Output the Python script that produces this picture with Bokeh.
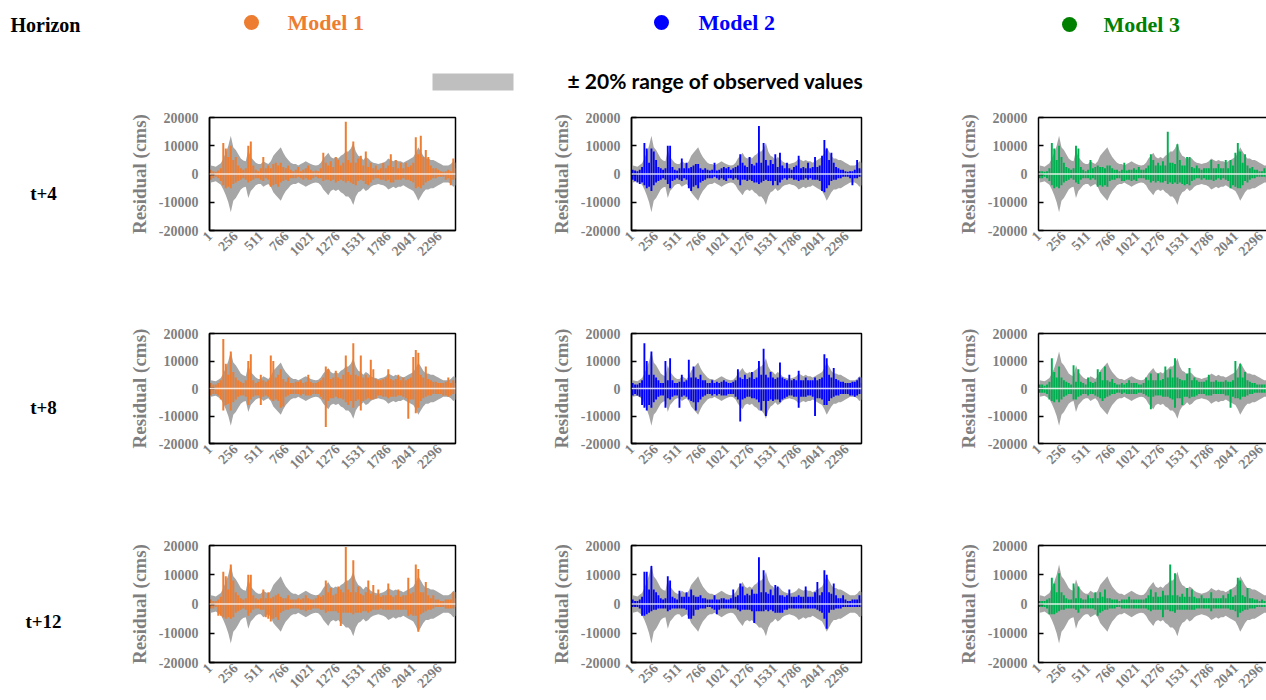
import math
import numpy as np
from bokeh.plotting import figure
from bokeh.layouts import column, row
from bokeh.models import Range1d, FixedTicker, Span, LinearAxis
from bokeh.core.properties import value
from bokeh.embed import file_html
from bokeh.resources import INLINE

# ---------------- data (values in thousands of cms) ----------------
HORIZONS = ["t+4", "t+8", "t+12"]
MODELS = ["Model 1", "Model 2", "Model 3"]
MODEL_COLORS = ["#ed7d31", "#0000ff", "#00b050"]
LEGEND_COLORS = ["#ed7d31", "#0000ff", "#008000"]
ZERO_COLORS = ["#fbe5d6", "#d6d6ff", "#dff0e4"]
BAND_LABEL = "\u00b1 20% range of observed values"
Y_LABEL = "Residual (cms)"
HEADER_LABEL = "Horizon"
X_TICKS = [1, 256, 511, 766, 1021, 1276, 1531, 1786, 2041, 2296]
Y_TICKS = [-20000, -10000, 0, 10000, 20000]
Y_TICK_LABELS = ["-20000", "-10000", "0", "10000", "20000"]

# sample index (centre of each 25-step bin)
SAMPLE_INDEX = list(range(13, 2476, 25))

# +/-20% of observed values (upper envelope, the lower one is its mirror)
BAND = [3.0, 2.8, 2.6, 3.2, 3.8, 5.5, 7.5, 10.0, 13.5, 9.5,
        8.5, 7.0, 5.5, 4.8, 4.5, 8.5, 6.0, 5.0, 4.0, 3.5,
        3.5, 4.5, 4.0, 3.5, 4.5, 6.5, 7.5, 8.5, 9.5, 7.5,
        6.0, 5.0, 4.0, 3.5, 3.5, 3.0, 3.5, 4.0, 4.5, 4.0,
        3.5, 3.2, 3.0, 3.2, 4.0, 5.5, 6.5, 7.5, 6.0, 5.5,
        6.0, 5.5, 6.5, 7.0, 8.0, 8.0, 9.0, 11.0, 8.0, 6.5,
        6.0, 5.0, 6.0, 5.5, 4.5, 4.0, 3.8, 3.5, 3.8, 4.0,
        4.5, 5.5, 5.0, 4.5, 5.0, 4.5, 4.5, 4.0, 4.5, 5.0,
        5.5, 6.0, 7.5, 9.5, 8.0, 6.5, 5.5, 5.5, 5.0, 5.0,
        4.5, 4.0, 3.5, 3.0, 3.0, 3.0, 3.5, 4.5, 4.0]

# residuals: largest positive and largest negative value in each bin
M1_T4_POS = [1.5, 1.0, 0.8, 1.2, 2.0, 11.0, 9.0, 6.0, 10.0, 5.0,
             6.0, 3.0, 2.0, 1.5, 2.0, 10.0, 11.5, 3.0, 1.5, 1.0,
             2.0, 6.0, 2.0, 3.0, 2.0, 3.5, 4.0, 3.0, 4.0, 2.5,
             2.0, 3.0, 1.5, 1.0, 1.5, 2.5, 1.0, 1.5, 2.0, 3.0,
             1.5, 1.0, 1.2, 1.0, 2.0, 7.5, 4.0, 3.0, 4.5, 2.5,
             6.0, 5.0, 3.0, 4.0, 18.5, 5.0, 4.0, 11.5, 4.0, 5.5,
             6.5, 3.0, 8.0, 2.5, 4.0, 2.0, 3.0, 1.5, 2.0, 4.0,
             2.0, 3.0, 7.0, 2.5, 5.0, 2.0, 4.0, 2.0, 4.0, 2.5,
             3.0, 4.0, 13.0, 7.0, 13.5, 6.0, 8.5, 6.0, 3.0, 2.0,
             2.0, 1.5, 1.0, 0.8, 1.0, 1.5, 1.0, 5.5, 2.0]
M1_T4_NEG = [-2.0, -1.5, -1.0, -1.5, -2.5, -4.0, -5.0, -4.5, -5.0, -3.5,
             -3.0, -2.5, -2.0, -1.5, -2.0, -3.0, -2.5, -2.0, -1.5, -1.5,
             -2.0, -2.5, -1.5, -2.0, -4.5, -4.0, -3.5, -4.5, -3.0, -2.5,
             -2.0, -2.5, -1.5, -1.5, -1.5, -1.0, -1.5, -2.0, -1.5, -2.0,
             -2.0, -1.5, -1.0, -1.5, -1.5, -2.5, -2.0, -2.0, -2.5, -2.0,
             -3.0, -2.5, -2.0, -2.5, -3.0, -2.5, -3.0, -3.5, -4.0, -2.5,
             -2.0, -2.5, -3.5, -4.0, -3.0, -2.0, -1.5, -1.5, -2.0, -2.0,
             -2.5, -2.0, -3.0, -3.0, -2.0, -2.0, -2.0, -1.5, -2.0, -2.0,
             -2.5, -3.0, -5.0, -4.5, -5.0, -4.0, -3.0, -2.5, -2.0, -1.5,
             -1.5, -1.0, -1.0, -1.0, -2.0, -1.5, -4.0, -2.0, -1.5]
M2_T4_POS = [1.5, 1.2, 1.0, 1.5, 2.5, 11.0, 9.0, 4.0, 9.0, 8.0,
             5.0, 2.5, 2.0, 1.5, 2.0, 10.0, 10.0, 2.5, 1.5, 1.2,
             2.0, 5.5, 2.0, 4.0, 2.0, 2.5, 3.0, 3.5, 3.5, 2.0,
             1.5, 2.0, 1.5, 1.2, 1.5, 4.0, 1.2, 1.5, 2.0, 2.5,
             2.0, 2.5, 1.5, 2.0, 2.5, 3.0, 7.0, 4.0, 3.0, 2.5,
             6.0, 3.5, 3.0, 4.0, 17.0, 4.0, 11.0, 5.0, 3.0, 5.0,
             3.5, 7.0, 2.5, 7.5, 3.0, 2.0, 4.0, 2.0, 1.5, 2.5,
             3.0, 6.5, 2.0, 2.5, 2.0, 4.0, 2.0, 2.5, 6.0, 2.5,
             3.0, 6.5, 12.0, 9.0, 5.0, 7.5, 4.0, 2.5, 2.0, 1.5,
             1.5, 1.0, 0.8, 1.0, 1.0, 1.5, 5.0, 2.0, 1.5]
M2_T4_NEG = [-2.0, -2.5, -3.0, -3.5, -3.0, -4.0, -5.0, -4.5, -6.0, -4.0,
             -3.0, -2.5, -2.0, -1.5, -2.0, -3.5, -5.0, -2.5, -2.0, -1.5,
             -2.0, -2.5, -1.5, -2.0, -5.0, -6.0, -4.5, -4.0, -5.0, -3.0,
             -2.5, -2.0, -1.5, -1.5, -1.5, -1.0, -1.5, -2.0, -1.5, -2.0,
             -2.5, -1.5, -1.5, -2.0, -1.5, -2.0, -4.0, -2.0, -2.0, -2.5,
             -2.0, -2.5, -3.0, -3.0, -3.5, -3.0, -2.5, -2.0, -2.5, -2.5,
             -4.0, -2.5, -4.0, -3.0, -2.0, -1.5, -2.0, -1.5, -1.5, -2.0,
             -2.0, -2.5, -2.0, -2.0, -1.5, -2.0, -1.5, -2.0, -2.0, -2.0,
             -2.5, -6.0, -6.5, -5.0, -4.0, -2.5, -2.0, -2.0, -1.5, -1.5,
             -1.0, -1.0, -1.0, -1.5, -4.0, -1.5, -1.5, -1.0, -1.0]
M3_T4_POS = [1.0, 1.0, 0.8, 1.0, 2.0, 11.0, 9.0, 5.0, 10.0, 6.0,
             4.0, 2.5, 2.0, 1.5, 2.0, 10.0, 9.0, 2.5, 1.5, 1.0,
             1.5, 5.0, 2.0, 2.5, 3.0, 2.5, 2.5, 2.0, 3.0, 3.0,
             2.0, 1.5, 1.5, 1.0, 1.5, 4.0, 1.2, 1.5, 1.5, 2.0,
             1.5, 2.5, 1.5, 1.5, 2.0, 3.0, 7.0, 5.0, 3.0, 4.0,
             3.0, 4.5, 3.0, 15.0, 4.0, 4.0, 3.5, 10.5, 5.0, 3.0,
             3.0, 6.0, 6.0, 2.5, 2.0, 3.0, 2.0, 1.5, 2.0, 2.0,
             2.0, 5.0, 2.0, 2.0, 3.5, 2.0, 2.0, 5.0, 2.0, 5.0,
             3.0, 7.5, 11.0, 8.0, 4.0, 7.0, 3.0, 2.0, 2.5, 1.5,
             1.5, 1.0, 1.0, 2.0, 1.0, 1.0, 1.5, 1.0, 1.0]
M3_T4_NEG = [-1.5, -1.5, -1.0, -1.5, -2.5, -4.0, -5.0, -4.5, -5.0, -4.0,
             -3.0, -2.5, -2.0, -1.5, -2.0, -3.0, -3.5, -2.0, -1.5, -1.5,
             -1.5, -2.0, -1.5, -2.0, -4.5, -4.0, -4.5, -4.0, -4.5, -2.5,
             -2.0, -2.0, -1.5, -1.5, -2.5, -2.5, -2.0, -2.0, -2.5, -2.0,
             -2.5, -1.5, -1.5, -1.5, -2.0, -2.0, -3.0, -2.5, -3.0, -2.5,
             -3.0, -3.0, -2.5, -3.5, -3.0, -3.5, -3.0, -3.5, -3.0, -3.5,
             -4.0, -3.5, -4.0, -2.5, -2.0, -1.5, -1.5, -2.0, -1.5, -2.0,
             -2.0, -2.0, -2.5, -2.0, -1.5, -2.0, -1.5, -2.0, -2.5, -5.0,
             -4.0, -4.5, -5.0, -5.0, -4.0, -2.5, -3.0, -2.0, -1.5, -1.5,
             -1.0, -1.0, -1.0, -1.0, -1.5, -1.5, -1.5, -1.0, -1.0]
M1_T8_POS = [2.0, 1.5, 1.5, 2.0, 3.0, 18.0, 9.0, 5.0, 13.5, 6.0,
             4.0, 3.0, 2.5, 2.0, 3.0, 10.0, 12.5, 3.0, 2.0, 2.5,
             5.0, 3.0, 2.5, 3.0, 12.0, 10.0, 4.0, 5.0, 7.0, 3.5,
             2.5, 4.0, 2.0, 2.0, 2.5, 2.5, 3.0, 2.0, 2.5, 5.0,
             2.5, 2.0, 2.0, 2.5, 3.0, 4.0, 8.0, 7.0, 3.5, 4.0,
             6.5, 4.0, 3.5, 5.0, 12.0, 6.0, 5.0, 16.5, 5.0, 4.5,
             12.0, 4.0, 5.0, 4.0, 10.5, 7.0, 3.5, 3.0, 3.0, 3.5,
             4.0, 7.0, 3.5, 3.0, 3.5, 5.0, 3.0, 4.0, 3.0, 3.5,
             4.0, 11.5, 14.0, 13.0, 5.0, 4.0, 8.0, 3.5, 3.0, 2.5,
             2.5, 2.0, 2.0, 2.0, 2.5, 4.0, 2.0, 3.0, 2.0]
M1_T8_NEG = [-2.5, -2.0, -2.0, -2.5, -4.0, -8.0, -6.0, -5.5, -8.0, -5.0,
             -4.0, -3.0, -2.5, -2.5, -3.0, -6.0, -4.0, -3.0, -2.5, -2.5,
             -6.0, -3.0, -2.5, -3.0, -4.0, -4.5, -4.0, -4.5, -7.0, -6.5,
             -3.0, -2.5, -2.0, -2.0, -2.0, -2.0, -2.5, -2.0, -2.5, -2.5,
             -2.5, -2.0, -2.0, -2.0, -3.0, -4.0, -14.0, -4.5, -3.5, -3.5,
             -3.0, -3.5, -3.5, -4.0, -5.0, -6.0, -4.5, -7.0, -4.5, -4.0,
             -8.0, -4.5, -4.0, -3.5, -4.0, -4.0, -3.5, -2.5, -2.5, -3.0,
             -3.0, -3.5, -3.0, -3.0, -3.0, -2.5, -2.5, -3.0, -3.5, -11.0,
             -4.0, -4.0, -9.0, -7.0, -4.5, -3.5, -3.0, -2.5, -2.5, -2.0,
             -2.0, -2.0, -2.0, -2.5, -2.5, -3.0, -2.5, -2.0, -2.0]
M2_T8_POS = [2.0, 1.5, 1.5, 2.0, 3.0, 16.5, 10.0, 5.0, 13.5, 5.0,
             4.0, 3.0, 2.0, 2.0, 10.0, 3.0, 11.0, 3.0, 2.0, 2.0,
             2.5, 5.0, 2.5, 3.0, 10.5, 4.0, 8.0, 4.0, 3.5, 5.0,
             3.0, 3.0, 2.0, 2.0, 3.0, 2.0, 2.5, 2.0, 2.5, 3.0,
             2.5, 2.0, 2.0, 2.5, 3.0, 7.0, 4.0, 3.5, 5.0, 3.5,
             4.0, 6.0, 3.5, 4.0, 10.0, 5.0, 14.5, 5.0, 4.0, 6.0,
             4.0, 3.5, 4.0, 9.5, 4.0, 3.5, 3.0, 5.0, 3.0, 3.5,
             3.0, 6.5, 3.0, 3.0, 4.0, 3.0, 3.0, 3.0, 4.0, 3.0,
             3.5, 4.0, 12.5, 11.0, 5.0, 4.0, 7.5, 3.5, 3.0, 2.5,
             2.5, 2.0, 2.0, 2.0, 2.5, 2.5, 3.0, 4.0, 2.0]
M2_T8_NEG = [-2.5, -2.0, -2.5, -3.0, -6.0, -7.0, -8.0, -6.0, -7.0, -5.0,
             -4.0, -3.0, -2.5, -2.5, -7.0, -3.5, -4.0, -3.0, -2.5, -2.5,
             -7.0, -3.0, -2.5, -3.0, -4.0, -4.5, -5.0, -8.0, -5.0, -4.0,
             -3.0, -2.5, -2.0, -2.0, -2.5, -2.0, -2.5, -2.0, -2.5, -2.5,
             -2.5, -2.0, -2.0, -2.0, -3.0, -4.0, -12.0, -4.0, -3.5, -3.0,
             -3.0, -3.5, -3.5, -4.0, -5.0, -8.0, -4.5, -10.0, -4.5, -4.0,
             -4.5, -4.0, -4.0, -5.0, -4.0, -3.5, -3.0, -2.5, -2.5, -3.0,
             -3.0, -7.0, -3.0, -3.0, -3.0, -2.5, -2.5, -3.0, -10.0, -3.5,
             -3.5, -4.0, -6.0, -6.0, -4.5, -3.5, -3.0, -2.5, -2.5, -2.0,
             -2.0, -2.0, -2.0, -2.5, -2.5, -3.0, -2.5, -2.0, -2.0]
M3_T8_POS = [1.5, 1.5, 1.0, 1.5, 2.5, 11.0, 6.0, 4.0, 8.0, 4.0,
             3.0, 2.5, 2.0, 1.5, 8.5, 2.5, 7.0, 2.5, 2.0, 1.5,
             4.0, 2.5, 2.0, 2.5, 7.0, 6.0, 3.0, 8.0, 3.0, 2.5,
             3.5, 2.0, 1.5, 1.5, 2.0, 1.5, 2.0, 3.0, 2.0, 2.0,
             2.0, 1.5, 1.5, 2.0, 4.0, 3.0, 5.5, 3.0, 3.0, 5.5,
             3.0, 3.5, 8.0, 4.0, 7.0, 4.0, 11.0, 4.0, 3.5, 3.0,
             3.0, 5.5, 7.5, 3.0, 4.0, 3.0, 2.5, 2.5, 2.5, 3.0,
             5.0, 2.5, 2.5, 3.0, 2.5, 2.5, 2.5, 3.0, 2.5, 2.5,
             3.0, 10.0, 4.0, 9.0, 4.0, 6.0, 3.0, 2.5, 2.0, 2.0,
             1.5, 1.5, 1.5, 1.5, 1.5, 1.5, 1.5, 1.5, 1.5]
M3_T8_NEG = [-1.5, -1.5, -1.5, -2.0, -4.0, -4.5, -5.0, -4.0, -5.0, -4.0,
             -3.0, -2.5, -2.0, -2.0, -4.0, -4.0, -3.0, -2.5, -2.0, -2.0,
             -2.5, -2.0, -2.0, -2.5, -3.0, -3.5, -4.5, -3.5, -3.0, -2.5,
             -2.0, -2.0, -1.5, -1.5, -2.0, -1.5, -2.0, -2.0, -2.0, -2.0,
             -2.0, -1.5, -1.5, -2.0, -2.5, -3.0, -7.5, -3.0, -2.5, -2.5,
             -2.5, -3.0, -3.0, -3.0, -3.5, -4.0, -7.0, -3.5, -3.5, -6.0,
             -3.0, -3.0, -3.5, -3.0, -3.0, -2.5, -2.0, -2.0, -2.0, -2.5,
             -2.5, -2.5, -2.0, -2.0, -2.0, -2.0, -2.0, -2.5, -2.5, -7.0,
             -3.0, -3.5, -3.5, -4.0, -3.0, -3.0, -2.5, -2.0, -2.0, -1.5,
             -1.5, -1.5, -1.5, -1.5, -1.5, -1.5, -1.5, -1.5, -1.5]
M1_T12_POS = [1.5, 1.0, 1.0, 1.5, 2.5, 11.0, 9.5, 5.0, 13.5, 8.0,
              4.0, 3.0, 2.0, 1.5, 2.0, 10.0, 10.0, 3.0, 2.0, 1.5,
              2.0, 5.0, 2.0, 4.0, 2.0, 2.5, 3.0, 3.5, 2.5, 2.0,
              2.0, 3.0, 1.5, 1.5, 1.5, 2.0, 1.5, 2.0, 3.0, 2.0,
              1.5, 1.5, 2.0, 3.0, 2.5, 3.0, 8.0, 4.0, 5.5, 3.0,
              3.5, 6.0, 5.0, 4.0, 19.5, 5.0, 4.0, 15.0, 4.0, 6.0,
              3.5, 3.0, 4.0, 8.0, 3.5, 6.5, 3.0, 5.0, 2.5, 3.0,
              3.0, 7.0, 3.0, 2.5, 3.0, 5.0, 2.5, 3.0, 3.0, 9.0,
              3.5, 4.0, 13.5, 12.0, 4.0, 4.0, 7.5, 3.0, 2.0, 3.0,
              1.5, 1.5, 1.0, 1.0, 1.5, 1.5, 1.5, 4.0, 2.0]
M1_T12_NEG = [-1.5, -1.5, -1.0, -4.0, -4.0, -4.5, -5.0, -4.5, -5.0, -4.5,
              -3.0, -2.5, -2.0, -1.5, -2.0, -4.0, -3.0, -2.0, -1.5, -1.5,
              -2.0, -2.0, -4.5, -5.0, -6.0, -5.0, -4.5, -5.5, -3.0, -2.5,
              -2.0, -2.0, -1.5, -1.5, -1.5, -1.5, -2.0, -2.0, -2.5, -2.0,
              -2.0, -1.5, -1.5, -1.5, -2.0, -2.0, -3.0, -2.5, -2.5, -2.5,
              -2.5, -3.0, -7.5, -3.0, -3.0, -3.0, -3.0, -3.5, -3.0, -3.0,
              -3.0, -2.5, -2.5, -3.0, -2.5, -2.0, -2.0, -2.0, -1.5, -2.0,
              -2.0, -2.0, -2.0, -2.0, -2.0, -2.0, -2.0, -2.0, -2.0, -4.0,
              -3.5, -4.0, -4.0, -9.5, -3.5, -3.0, -2.5, -2.0, -2.0, -1.5,
              -1.0, -1.0, -1.0, -1.0, -1.5, -1.5, -1.5, -1.5, -1.0]
M2_T12_POS = [1.5, 1.0, 1.0, 1.5, 2.5, 11.0, 11.0, 5.0, 13.0, 5.0,
              4.0, 3.0, 2.0, 1.5, 2.0, 9.5, 8.0, 2.5, 2.0, 1.5,
              4.5, 2.5, 2.5, 4.0, 2.5, 5.0, 3.0, 2.5, 2.5, 3.0,
              2.0, 2.0, 1.5, 1.5, 1.5, 3.0, 1.5, 1.5, 2.0, 2.0,
              1.5, 1.5, 2.0, 5.0, 2.5, 3.0, 7.0, 6.0, 3.0, 3.5,
              3.0, 5.0, 3.5, 3.5, 16.0, 4.0, 11.5, 4.0, 3.5, 5.0,
              3.0, 6.5, 6.0, 3.0, 3.0, 2.5, 3.0, 5.0, 2.5, 2.5,
              2.5, 3.0, 2.5, 2.5, 6.0, 2.5, 2.5, 2.5, 4.0, 7.5,
              3.0, 4.0, 11.5, 10.0, 4.0, 3.5, 7.0, 3.0, 2.0, 2.0,
              3.0, 1.5, 1.0, 1.0, 1.5, 1.5, 1.5, 3.0, 1.5]
M2_T12_NEG = [-1.0, -1.0, -1.0, -1.5, -4.0, -4.0, -3.5, -3.0, -2.5, -2.0,
              -2.0, -1.5, -1.5, -1.5, -1.5, -2.5, -2.0, -1.5, -1.5, -1.5,
              -1.5, -1.5, -1.5, -2.0, -5.0, -5.0, -4.0, -2.0, -2.0, -1.5,
              -1.5, -1.5, -1.0, -1.0, -1.5, -2.0, -3.5, -2.0, -1.5, -1.5,
              -1.5, -1.5, -1.5, -1.5, -1.5, -2.0, -2.5, -2.0, -2.0, -2.0,
              -2.0, -2.5, -6.5, -2.5, -2.5, -2.5, -2.5, -2.0, -2.5, -2.0,
              -2.5, -3.0, -3.0, -3.0, -3.0, -2.0, -2.0, -1.5, -1.5, -1.5,
              -1.5, -1.5, -1.5, -1.5, -1.5, -1.5, -1.5, -1.5, -1.5, -2.0,
              -2.5, -3.0, -5.0, -8.5, -3.0, -2.0, -2.0, -1.5, -1.5, -1.5,
              -1.0, -1.0, -1.0, -1.0, -1.0, -1.0, -1.0, -1.0, -1.0]
M3_T12_POS = [1.0, 1.0, 1.0, 1.5, 2.0, 9.0, 7.0, 4.0, 10.5, 4.0,
              3.0, 2.0, 1.5, 1.5, 7.0, 2.0, 6.0, 2.0, 1.5, 1.5,
              3.0, 2.0, 2.0, 4.0, 2.0, 4.0, 2.5, 5.0, 2.0, 2.0,
              1.5, 1.5, 1.5, 1.0, 1.5, 1.5, 1.5, 2.5, 1.5, 1.5,
              1.5, 1.5, 1.5, 1.5, 2.0, 3.0, 5.0, 2.5, 4.0, 2.5,
              2.5, 4.5, 3.0, 3.0, 13.5, 3.0, 10.5, 3.0, 2.5, 3.5,
              2.5, 5.5, 2.5, 5.0, 2.5, 2.0, 2.0, 3.0, 2.0, 2.0,
              2.0, 4.0, 2.0, 2.0, 2.0, 2.0, 3.0, 2.0, 3.5, 5.0,
              2.5, 3.0, 9.0, 8.0, 3.0, 2.5, 5.5, 2.0, 2.0, 1.5,
              1.5, 1.0, 1.5, 1.0, 1.0, 1.0, 1.0, 1.0, 1.0]
M3_T12_NEG = [-1.0, -1.0, -1.0, -1.5, -3.5, -3.5, -3.5, -3.0, -2.5, -2.0,
              -2.0, -1.5, -1.5, -1.5, -1.5, -2.0, -3.0, -1.5, -1.5, -1.5,
              -1.5, -1.5, -1.5, -2.0, -4.0, -3.0, -2.5, -2.0, -2.0, -1.5,
              -1.5, -1.5, -1.0, -1.0, -1.5, -1.5, -1.5, -1.5, -1.5, -1.5,
              -1.5, -1.5, -1.5, -1.5, -1.5, -2.0, -2.5, -2.0, -2.0, -2.0,
              -2.0, -4.5, -2.0, -2.0, -2.5, -2.5, -3.0, -2.0, -2.0, -2.0,
              -2.0, -2.0, -2.0, -2.0, -2.0, -1.5, -1.5, -1.5, -1.5, -1.5,
              -1.5, -2.5, -1.5, -1.5, -1.5, -1.5, -1.5, -1.5, -1.5, -2.0,
              -2.0, -2.5, -4.5, -3.0, -2.5, -2.0, -2.0, -1.5, -1.5, -1.5,
              -1.0, -1.0, -1.0, -1.0, -1.0, -1.0, -1.0, -1.0, -1.0]

RESIDUALS = [
    [(M1_T4_POS, M1_T4_NEG), (M2_T4_POS, M2_T4_NEG), (M3_T4_POS, M3_T4_NEG)],
    [(M1_T8_POS, M1_T8_NEG), (M2_T8_POS, M2_T8_NEG), (M3_T8_POS, M3_T8_NEG)],
    [(M1_T12_POS, M1_T12_NEG), (M2_T12_POS, M2_T12_NEG), (M3_T12_POS, M3_T12_NEG)],
]
UNIT = 1000.0  # values above are in thousands of cms

# ---------------- layout geometry (page has no margin in this template) ----------------
SERIF = value("Liberation Serif")
SANS = value("Lato")
TOTAL_W = 1266
HEADER_H = 100
LABEL_W = 108
# per column: (width, border_left, border_right, x_end)
COLS = [(372, 101, 25, 2460), (420, 151, 39, 2460), (366, 138, 0, 2360)]
# per row: (height, border_top, border_bottom)
ROWS = [(212, 17, 82), (213, 21, 82), (175, 20, 38)]
ROW_LABEL_PAGE_Y = [193, 407, 621]
GRAY_BAND = "#a6a6a6"
TICK_GRAY = "#7f7f7f"


def blank_fig(w, h, yr=None):
    f = figure(width=w, height=h, x_range=Range1d(0, w),
               y_range=yr if yr is not None else Range1d(h, 0),
               output_backend="svg", toolbar_location=None, title=None,
               x_axis_location=None, y_axis_location=None,
               min_border=0, outline_line_color=None)
    f.grid.visible = False
    f.background_fill_color = "white"
    f.border_fill_color = "white"
    return f


# header
hdr = blank_fig(TOTAL_W, HEADER_H)
hdr.text(x=[10], y=[24], text=[HEADER_LABEL], text_font=SERIF, text_font_style="bold",
         text_font_size="20px", text_color="black", text_baseline="middle", text_align="left")
leg_dot_x = [251, 661, 1069]
leg_dot_y = [22, 22, 24]
leg_txt_x = [287, 698, 1103]
for i in range(3):
    hdr.scatter(x=[leg_dot_x[i]], y=[leg_dot_y[i]], marker="circle", size=15,
                fill_color=LEGEND_COLORS[i], line_color=None)
    hdr.text(x=[leg_txt_x[i]], y=[leg_dot_y[i]], text=[MODELS[i]], text_font=SERIF,
             text_font_style="bold", text_font_size="22px", text_color=LEGEND_COLORS[i],
             text_baseline="middle", text_align="left")
hdr.quad(left=[432], right=[513], top=[73], bottom=[90], fill_color="#bfbfbf", line_color=None)
hdr.text(x=[567], y=[80], text=[BAND_LABEL], text_font=SANS, text_font_style="bold",
         text_font_size="21px", text_color="black", text_baseline="middle", text_align="left")


def style_axis(ax):
    ax.axis_line_color = "black"
    ax.axis_line_width = 1.5
    ax.major_label_text_font = "Liberation Serif"
    ax.major_label_text_font_style = "bold"
    ax.major_label_text_font_size = "14px"
    ax.major_label_text_color = TICK_GRAY
    ax.minor_tick_line_color = None


def panel(ri, ci):
    w, bl, br, xend = COLS[ci]
    h, bt, bb = ROWS[ri]
    p = figure(width=w, height=h, x_range=Range1d(0, xend), y_range=Range1d(-20000, 20000),
               output_backend="svg", toolbar_location=None, title=None,
               min_border_left=bl, min_border_right=br, min_border_top=bt, min_border_bottom=bb)
    p.grid.visible = False
    p.background_fill_color = "white"
    p.border_fill_color = "white"

    xs = np.array(SAMPLE_INDEX, dtype=float)
    band = np.array(BAND) * UNIT
    p.varea(x=xs, y1=band, y2=-band, fill_color=GRAY_BAND)
    pos, neg = RESIDUALS[ri][ci]
    col = MODEL_COLORS[ci]
    p.vbar(x=xs, width=20, top=np.array(pos) * UNIT, bottom=0, fill_color=col, line_color=None)
    p.vbar(x=xs, width=20, top=0, bottom=np.array(neg) * UNIT, fill_color=col, line_color=None)
    p.add_layout(Span(location=0, dimension="width", line_color=ZERO_COLORS[ci], line_width=1.5))

    xax = p.below[0]
    yax = p.left[0]
    style_axis(xax)
    style_axis(yax)
    yax.ticker = FixedTicker(ticks=Y_TICKS)
    yax.major_label_overrides = {t: s for t, s in zip(Y_TICKS, Y_TICK_LABELS)}
    yax.major_tick_in = 5
    yax.major_tick_out = 0
    yax.major_tick_line_width = 1.5
    yax.major_label_standoff = 11
    yax.axis_label = Y_LABEL
    yax.axis_label_text_font = "Liberation Serif"
    yax.axis_label_text_font_style = "bold"
    yax.axis_label_text_font_size = "19px"
    yax.axis_label_text_color = TICK_GRAY
    yax.axis_label_standoff = 6
    xax.ticker = FixedTicker(ticks=X_TICKS)
    xax.major_tick_in = 0
    xax.major_tick_out = 0
    xax.major_label_orientation = math.pi / 4
    xax.major_label_standoff = 3

    if ci == 2:
        # right edge of this frame is beyond the window: draw only top/left/bottom edges
        p.outline_line_color = None
        top_ax = LinearAxis(ticker=FixedTicker(ticks=[]), major_tick_in=0, major_tick_out=0,
                            minor_tick_in=0, minor_tick_out=0,
                            major_label_text_font_size="0px", axis_line_width=1.5,
                            axis_line_color="black")
        p.add_layout(top_ax, "above")
    else:
        p.outline_line_color = "black"
        p.outline_line_width = 1.5
    return p


rows = [hdr]
row_top = HEADER_H
for ri in range(3):
    h, bt, bb = ROWS[ri]
    # the row label figure's frame is aligned with the panels' frames in the row,
    # so its y range spans the panel frame in page pixels
    frame_top = row_top + bt
    frame_bottom = row_top + h - bb
    lab = blank_fig(LABEL_W, h, yr=Range1d(frame_bottom, frame_top))
    lab.text(x=[43], y=[ROW_LABEL_PAGE_Y[ri]], text=[HORIZONS[ri]], text_font=SERIF,
             text_font_style="bold", text_font_size="19px", text_color="black",
             text_baseline="middle", text_align="center")
    rows.append(row(lab, panel(ri, 0), panel(ri, 1), panel(ri, 2)))
    row_top += h

layout = column(*rows)
open("out.html", "w").write(file_html(layout, INLINE))
